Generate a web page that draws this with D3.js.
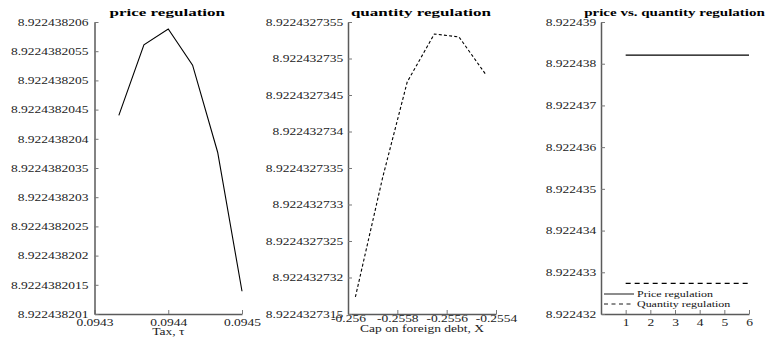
<!DOCTYPE html>
<html>
<head>
<meta charset="utf-8">
<script src="https://cdn.jsdelivr.net/npm/d3@7"></script>
<style>
  html, body { margin: 0; padding: 0; background: #fff; }
  svg { display: block; font-family: "Liberation Serif", "Times New Roman", serif; }
</style>
</head>
<body>
<svg id="chart" width="766" height="343"></svg>
<script>
// ---------------- data ----------------
const taxX   = [0.094333, 0.094367, 0.0944, 0.094433, 0.094467, 0.0945];
const priceW = [8.9224382044, 8.92243820561, 8.92243820588, 8.92243820526, 8.92243820377, 8.92243820139];

const capX   = [-0.25597, -0.25586, -0.25576, -0.25565, -0.25555, -0.25544];
const quantW = [8.922432731733, 8.922432733363, 8.922432734678, 8.922432735336, 8.922432735295, 8.922432734774];

const periods      = [1, 2, 3, 4, 5, 6];
const priceBest    = [8.92243820588, 8.92243820588, 8.92243820588, 8.92243820588, 8.92243820588, 8.92243820588];
const quantBest    = [8.922432735336, 8.922432735336, 8.922432735336, 8.922432735336, 8.922432735336, 8.922432735336];

const priceYTicks = [8.922438201, 8.9224382015, 8.922438202, 8.9224382025, 8.922438203, 8.9224382035,
                     8.922438204, 8.9224382045, 8.922438205, 8.9224382055, 8.922438206];
const taxTicks    = [0.0943, 0.0944, 0.0945];
const quantYTicks = [8.9224327315, 8.922432732, 8.9224327325, 8.922432733, 8.9224327335,
                     8.922432734, 8.9224327345, 8.922432735, 8.9224327355];
const capTicks    = [-0.256, -0.2558, -0.2556, -0.2554];
const cmpYTicks   = [8.922432, 8.922433, 8.922434, 8.922435, 8.922436, 8.922437, 8.922438, 8.922439];
const cmpXTicks   = [1, 2, 3, 4, 5, 6];

const titles  = ["price regulation", "quantity regulation", "price vs. quantity regulation"];
const xLabels = ["Tax, \u03C4", "Cap on foreign debt, X", ""];
const legendLabels = ["Price regulation", "Quantity regulation"];

// ---------------- layout ----------------
const svg = d3.select("#chart");
const SX = 1.35;           // horizontal stretch of the reference's text
const plotTop = 22, plotBottom = 314;

function stretchText(sel, sx) {
  sel.each(function () {
    const t = d3.select(this);
    const x = +t.attr("x") || 0;
    t.attr("x", x / sx).attr("transform", `scale(${sx},1)`);
  });
}

function styleAxis(g) {
  g.select(".domain").attr("stroke", "#5a5a5a").attr("stroke-width", 1.5);
  g.selectAll(".tick line").attr("stroke", "#777").attr("stroke-width", 1);
  g.selectAll(".tick text").attr("fill", "#222").style("font-size", "10px")
   .style("font-family", "'Liberation Serif', serif");
  stretchText(g.selectAll(".tick text"), SX);
}

const panels = [
  { x0: 94.5, x1: 242, xDom: [0.0943, 0.0945], yDom: [8.922438201, 8.922438206],
    xT: taxTicks, yT: priceYTicks, yPad: 6, xPad: 4.5, xLabY: 335, titleSX: 1.55,
    series: [{ xs: taxX, ys: priceW, dash: null }] },
  { x0: 348, x1: 496, xDom: [-0.256, -0.2554], yDom: [8.9224327315, 8.9224327355],
    xT: capTicks, yT: quantYTicks, yPad: 4.7, xPad: 1, xLabY: 332, titleSX: 1.55,
    series: [{ xs: capX, ys: quantW, dash: "3,2.2" }] },
  { x0: 601, x1: 749, xDom: [0, 6], yDom: [8.922432, 8.922439],
    xT: cmpXTicks, yT: cmpYTicks, yPad: 4.7, xPad: 4.5, xLabY: 335, titleSX: 1.365,
    series: [{ xs: periods, ys: priceBest, dash: null },
             { xs: periods, ys: quantBest, dash: "5,4" }] }
];

panels.forEach((p, i) => {
  const x = d3.scaleLinear().domain(p.xDom).range([p.x0, p.x1]);
  const y = d3.scaleLinear().domain(p.yDom).range([plotBottom, plotTop]);

  const gx = svg.append("g").attr("transform", `translate(0,${plotBottom})`)
    .call(d3.axisBottom(x).tickValues(p.xT).tickFormat(d => String(d))
      .tickSizeInner(-4).tickSizeOuter(0).tickPadding(p.xPad));
  styleAxis(gx);

  const gy = svg.append("g").attr("transform", `translate(${p.x0},0)`)
    .call(d3.axisLeft(y).tickValues(p.yT).tickFormat(d => String(d))
      .tickSizeInner(-4).tickSizeOuter(0).tickPadding(p.yPad));
  styleAxis(gy);

  const line = d3.line().x(d => x(d[0])).y(d => y(d[1]));
  p.series.forEach(s => {
    svg.append("path")
      .datum(s.xs.map((v, k) => [v, s.ys[k]]))
      .attr("d", line)
      .attr("fill", "none")
      .attr("stroke", "#000")
      .attr("stroke-width", 1.1)
      .attr("stroke-dasharray", s.dash);
  });

  const cx = (p.x0 + p.x1) / 2;
  svg.append("g").attr("transform", `translate(${i === 2 ? cx - 0.5 : cx - 1},16)`)
    .append("text").attr("text-anchor", "middle")
    .attr("transform", `scale(${p.titleSX},1)`)
    .style("font-size", "11px").style("font-weight", "bold").attr("fill", "#000")
    .text(titles[i]);

  if (xLabels[i]) {
    svg.append("g").attr("transform", `translate(${cx},${p.xLabY})`)
      .append("text").attr("text-anchor", "middle")
      .attr("transform", `scale(${SX},1)`)
      .style("font-size", "10px").attr("fill", "#222")
      .text(xLabels[i]);
  }

  if (i === 2) {
    const lg = svg.append("g");
    const rows = [{ dash: null, y: 294 }, { dash: "4,3.5", y: 304 }];
    rows.forEach((r, k) => {
      lg.append("line").attr("x1", 604).attr("x2", 634).attr("y1", r.y).attr("y2", r.y)
        .attr("stroke", "#000").attr("stroke-width", 0.9).attr("stroke-dasharray", r.dash);
      lg.append("g").attr("transform", `translate(637,${r.y + 3})`)
        .append("text").attr("transform", "scale(1.33,1)")
        .style("font-size", "9px").attr("fill", "#111").text(legendLabels[k]);
    });
  }
});
</script>
</body>
</html>
